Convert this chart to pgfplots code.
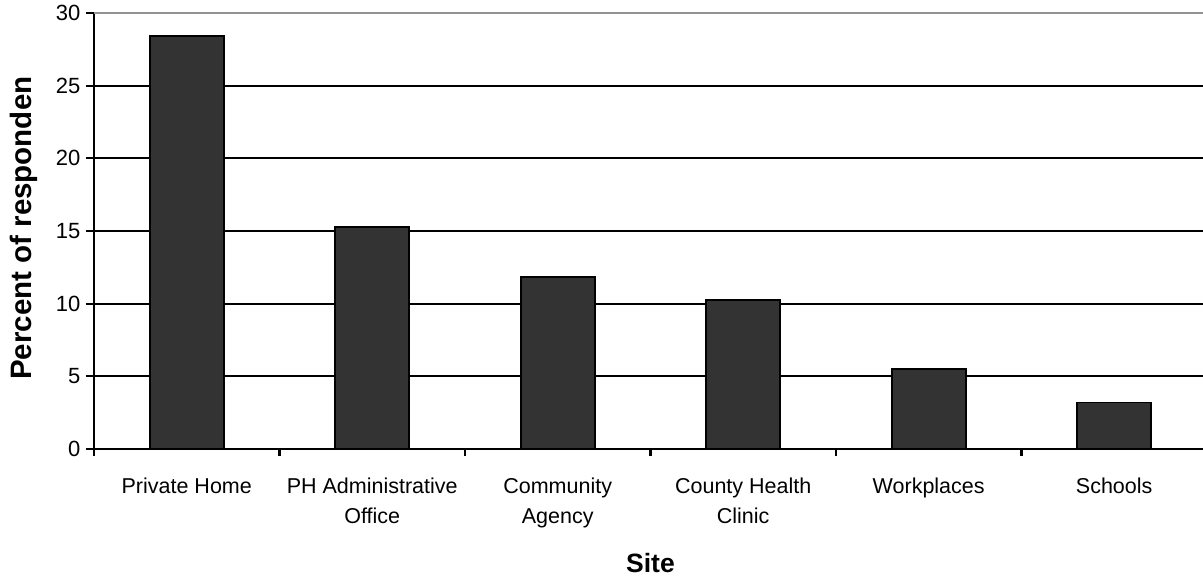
\documentclass[border=0pt]{standalone}
\usepackage{pgfplots}
\pgfplotsset{compat=1.18}
\usepackage{fontspec}
\setmainfont{Liberation Sans}

\definecolor{barfill}{HTML}{333333}

\begin{document}
\begin{tikzpicture}
\begin{axis}[
    at={(0,0)}, anchor=south west,
    scale only axis,
    width=1113pt, height=436pt,
    xmin=-0.5, xmax=5.5,
    ymin=0, ymax=30,
    axis lines=left,
    axis line style={black, line width=2.2pt, -},
    xtick={0,1,2,3,4,5},
    xticklabels={Private Home, PH Administrative\\Office, Community\\Agency, County Health\\Clinic, Workplaces, Schools},
    minor xtick={-0.5,0.5,1.5,2.5,3.5,4.5},
    major x tick style={draw=none},
    minor x tick style={black, line width=2.2pt},
    minor tick length=7pt,
    ytick={0,5,10,15,20,25},
    extra y ticks={30},
    extra y tick style={grid style={gray!85, line width=2.2pt}},
    ytick style={black, line width=2.2pt},
    major tick length=8pt,
    tick align=outside,
    tick pos=left,
    ymajorgrids=true,
    grid style={black, line width=2.2pt},
    xticklabel style={font=\fontsize{21.5}{30}\selectfont, align=center, anchor=north, yshift=-17pt},
    yticklabel style={font=\fontsize{22}{26}\selectfont, xshift=-2pt},
    /pgf/number format/assume math mode=true,
    xlabel={\textbf{Site}},
    xlabel style={font=\fontsize{26.5}{30}\selectfont, anchor=base, at={(axis description cs:0.5,0)}, yshift=-124pt},
    clip=false,
]
\addplot[ybar, bar width=74pt, fill=barfill, draw=black, line width=1.8pt]
    coordinates {(0,28.4) (1,15.3) (2,11.85) (3,10.25) (4,5.5) (5,3.2)};
\end{axis}
\node[rotate=90, anchor=base west, inner sep=0pt, font=\fontsize{29.5}{32}\selectfont\bfseries] at (-62pt,69pt) {Percent of responden};
\pgfresetboundingbox
\useasboundingbox (-94pt,-128pt) rectangle (1109pt,449pt);
\end{tikzpicture}
\end{document}
